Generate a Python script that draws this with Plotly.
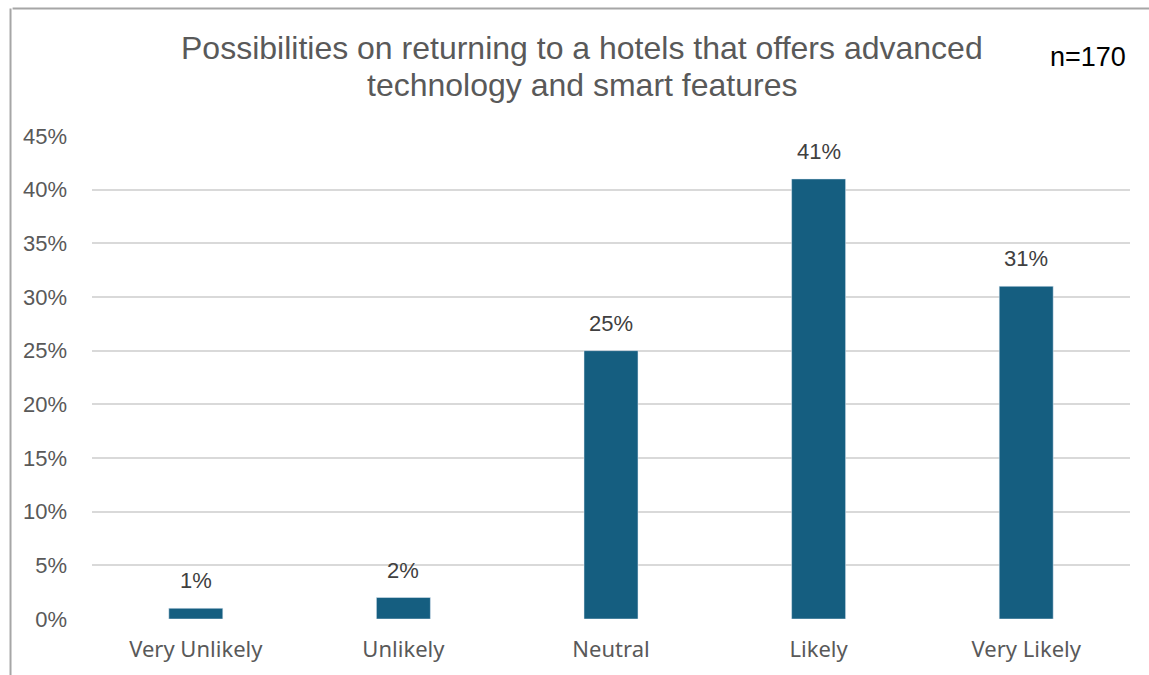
import plotly.graph_objects as go

categories = ["Very Unlikely", "Unlikely", "Neutral", "Likely", "Very Likely"]
shares = [1, 2, 25, 41, 31]
labels = [f"{v}%" for v in shares]
ytick_vals = [0, 5, 10, 15, 20, 25, 30, 35, 40, 45]
ytick_text = [f"{v}%" for v in ytick_vals]
title_lines = [
    "Possibilities on returning to a hotels that offers advanced",
    "technology and smart features",
]
sample_note = "n=170"

ARIAL = "Liberation Sans, Arial, sans-serif"

fig = go.Figure(
    go.Bar(
        x=categories,
        y=shares,
        marker=dict(color="#155E80"),
        hoverinfo="skip",
    )
)

# value labels above each bar
annotations = [
    dict(
        x=c,
        y=v,
        xref="x",
        yref="y",
        text=t,
        showarrow=False,
        yanchor="bottom",
        yshift=13,
        font=dict(family=ARIAL, size=22, color="#404040"),
    )
    for c, v, t in zip(categories, shares, labels)
]

# two-line chart title
for line, shift in zip(title_lines, [88, 51]):
    annotations.append(
        dict(
            text=line,
            xref="paper",
            yref="paper",
            x=0.472,
            y=1.0,
            xanchor="center",
            yanchor="middle",
            yshift=shift,
            showarrow=False,
            font=dict(family=ARIAL, size=32, color="#595959"),
        )
    )

annotations.append(
    dict(
        text=sample_note,
        xref="paper",
        yref="paper",
        x=1.0,
        y=1.0,
        xanchor="center",
        yanchor="middle",
        xshift=-42,
        yshift=79,
        showarrow=False,
        font=dict(family=ARIAL, size=27, color="#000000"),
    )
)

fig.update_layout(
    width=1149,
    height=675,
    margin=dict(l=92, r=19, t=136, b=56),
    paper_bgcolor="white",
    plot_bgcolor="white",
    bargap=0.74,
    showlegend=False,
    xaxis=dict(
        showgrid=False,
        showline=False,
        ticks="",
        automargin=False,
        ticklabelstandoff=15,
        tickfont=dict(family="Noto Sans, sans-serif", size=22, color="#595959"),
    ),
    yaxis=dict(
        range=[0, 45],
        tickvals=ytick_vals,
        ticktext=ytick_text,
        showgrid=True,
        gridcolor="#D9D9D9",
        gridwidth=2,
        zeroline=False,
        showline=False,
        ticks="",
        automargin=False,
        ticklabelstandoff=24,
        tickfont=dict(family=ARIAL, size=22, color="#595959"),
    ),
    annotations=annotations,
    shapes=[
        dict(
            type="line",
            xref="paper",
            yref="paper",
            x0=-0.0765,
            x1=1.05,
            y0=1.264,
            y1=1.264,
            line=dict(color="#A6A6A6", width=2),
        ),
        dict(
            type="line",
            xref="paper",
            yref="paper",
            x0=-0.0785,
            x1=-0.0785,
            y0=-0.2,
            y1=1.264,
            line=dict(color="#A6A6A6", width=2),
        ),
    ],
)

fig.write_html("out.html")
